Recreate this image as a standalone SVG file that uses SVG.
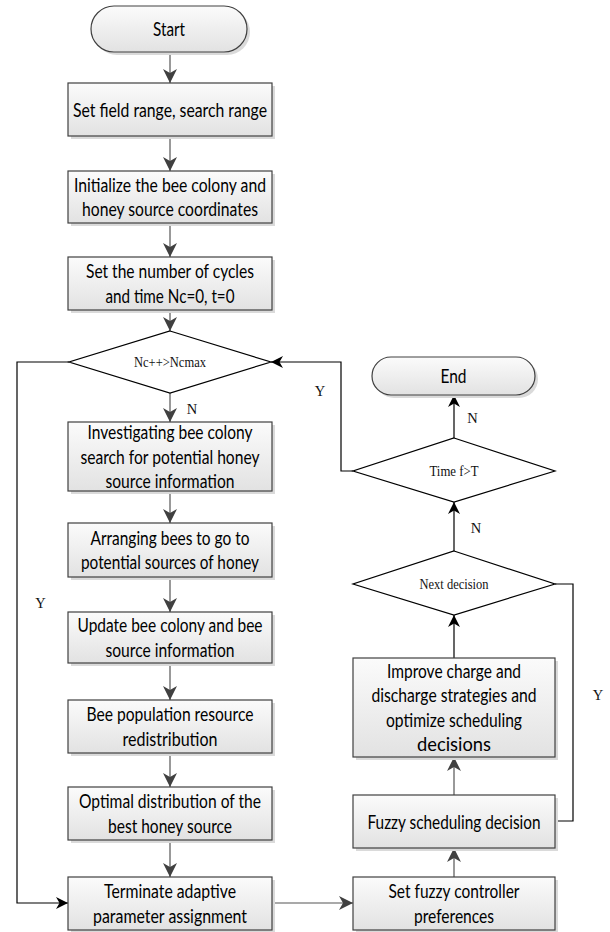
<svg xmlns="http://www.w3.org/2000/svg" width="610" height="932" viewBox="0 0 610 932">
<defs>
<linearGradient id="gf" x1="0" y1="0" x2="0" y2="1">
<stop offset="0" stop-color="#fbfbfb"/>
<stop offset="1" stop-color="#e2e2e2"/>
</linearGradient>
<marker id="ag" viewBox="0 0 14 14" refX="14" refY="7" markerWidth="14" markerHeight="14" markerUnits="userSpaceOnUse" orient="auto">
<path d="M0,0 L14,7 L0,14 L4,7 Z" fill="#404040"/>
</marker>
<marker id="ab" viewBox="0 0 12 12" refX="12" refY="6" markerWidth="12" markerHeight="12" markerUnits="userSpaceOnUse" orient="auto">
<path d="M0,0 L12,6 L0,12 L3.5,6 Z" fill="#000"/>
</marker>
</defs>
<style>
.sh{fill:#dadada}
.bx{fill:url(#gf);stroke:#404040;stroke-width:1.2}
.dm{fill:#fff;stroke:#000;stroke-width:1.2}
.t{font-family:Lato,"Open Sans","Liberation Sans",sans-serif;font-size:19.5px;fill:#000;text-anchor:middle}
.d{font-family:"Liberation Serif","Times New Roman",serif;font-size:14px;fill:#111;text-anchor:middle}
.l{font-family:"Liberation Serif","Times New Roman",serif;font-size:14.5px;fill:#111;text-anchor:middle}
.cg{fill:none;stroke:#555;stroke-width:1.2;marker-end:url(#ag)}
.cb{fill:none;stroke:#000;stroke-width:1.2;marker-end:url(#ab)}
.cn{fill:none;stroke:#000;stroke-width:1.2}
</style>
<g id="connectors">
<path class="cg" d="M170,52 V83"/>
<path class="cg" d="M170,136 V171"/>
<path class="cg" d="M170,223 V257"/>
<path class="cg" d="M170,310 V331"/>
<path class="cg" d="M170,393 V422"/>
<path class="cg" d="M170,491 V523"/>
<path class="cg" d="M170,577 V612"/>
<path class="cg" d="M170,663 V700"/>
<path class="cg" d="M170,753 V787"/>
<path class="cg" d="M170,840 V877"/>
<path class="cb" d="M69,362 H17 V903 H68"/>
<path class="cg" d="M272,903 H353"/>
<path class="cg" d="M454,877 V848"/>
<path class="cg" d="M454,795 V757"/>
<path class="cb" d="M454,658 V615"/>
<path class="cb" d="M454,551 V502"/>
<path class="cb" d="M454,438 V395"/>
<path class="cb" d="M353,471 H341 V362 H271"/>
<path class="cn" d="M555,584 H573 V821 H555"/>
<text class="l" x="192" y="414">N</text>
<text class="l" x="40.5" y="608">Y</text>
<text class="l" x="320" y="396">Y</text>
<text class="l" x="472.5" y="423">N</text>
<text class="l" x="476" y="533">N</text>
<text class="l" x="598" y="700">Y</text>
</g>
<g id="start">
<rect class="sh" x="94" y="9" width="156" height="46" rx="23"/>
<rect class="bx" x="91" y="6" width="156" height="46" rx="23"/>
<text class="t" x="169" y="36" textLength="32" lengthAdjust="spacingAndGlyphs">Start</text>
</g>
<g id="n1">
<rect class="sh" x="71" y="86" width="204" height="53"/>
<rect class="bx" x="68" y="83" width="204" height="53"/>
<text class="t" x="170" y="116.5" textLength="194" lengthAdjust="spacingAndGlyphs">Set field range, search range</text>
</g>
<g id="n2">
<rect class="sh" x="71" y="174" width="204" height="52"/>
<rect class="bx" x="68" y="171" width="204" height="52"/>
<text class="t" x="170" y="191.75" textLength="192" lengthAdjust="spacingAndGlyphs">Initialize the bee colony and</text>
<text class="t" x="170" y="216.25" textLength="176" lengthAdjust="spacingAndGlyphs">honey source coordinates</text>
</g>
<g id="n3">
<rect class="sh" x="71" y="260" width="204" height="53"/>
<rect class="bx" x="68" y="257" width="204" height="53"/>
<text class="t" x="170" y="278.25" textLength="168" lengthAdjust="spacingAndGlyphs">Set the number of cycles</text>
<text class="t" x="170" y="302.75" textLength="129" lengthAdjust="spacingAndGlyphs">and time Nc=0, t=0</text>
</g>
<g id="d1">
<polygon class="dm" points="170,331 271,362 170,393 69,362"/>
<text class="d" x="170" y="366.5" textLength="72" lengthAdjust="spacingAndGlyphs">Nc++&gt;Ncmax</text>
</g>
<g id="n4">
<rect class="sh" x="71" y="425" width="204" height="69"/>
<rect class="bx" x="68" y="422" width="204" height="69"/>
<text class="t" x="170" y="439" textLength="165" lengthAdjust="spacingAndGlyphs">Investigating bee colony</text>
<text class="t" x="170" y="463.5" textLength="179" lengthAdjust="spacingAndGlyphs">search for potential honey</text>
<text class="t" x="170" y="488" textLength="129" lengthAdjust="spacingAndGlyphs">source information</text>
</g>
<g id="n5">
<rect class="sh" x="71" y="526" width="204" height="54"/>
<rect class="bx" x="68" y="523" width="204" height="54"/>
<text class="t" x="170" y="544.75" textLength="159" lengthAdjust="spacingAndGlyphs">Arranging bees to go to</text>
<text class="t" x="170" y="569.25" textLength="178" lengthAdjust="spacingAndGlyphs">potential sources of honey</text>
</g>
<g id="n6">
<rect class="sh" x="71" y="615" width="204" height="51"/>
<rect class="bx" x="68" y="612" width="204" height="51"/>
<text class="t" x="170" y="632.25" textLength="185" lengthAdjust="spacingAndGlyphs">Update bee colony and bee</text>
<text class="t" x="170" y="656.75" textLength="129" lengthAdjust="spacingAndGlyphs">source information</text>
</g>
<g id="n7">
<rect class="sh" x="71" y="703" width="204" height="53"/>
<rect class="bx" x="68" y="700" width="204" height="53"/>
<text class="t" x="170" y="721.25" textLength="167" lengthAdjust="spacingAndGlyphs">Bee population resource</text>
<text class="t" x="170" y="745.75" textLength="95" lengthAdjust="spacingAndGlyphs">redistribution</text>
</g>
<g id="n8">
<rect class="sh" x="71" y="790" width="204" height="53"/>
<rect class="bx" x="68" y="787" width="204" height="53"/>
<text class="t" x="170" y="808.25" textLength="182" lengthAdjust="spacingAndGlyphs">Optimal distribution of the</text>
<text class="t" x="170" y="832.75" textLength="124" lengthAdjust="spacingAndGlyphs">best honey source</text>
</g>
<g id="n9">
<rect class="sh" x="71" y="880" width="204" height="53"/>
<rect class="bx" x="68" y="877" width="204" height="53"/>
<text class="t" x="170" y="898.25" textLength="132" lengthAdjust="spacingAndGlyphs">Terminate adaptive</text>
<text class="t" x="170" y="922.75" textLength="154" lengthAdjust="spacingAndGlyphs">parameter assignment</text>
</g>
<g id="n10">
<rect class="sh" x="356" y="880" width="202" height="53"/>
<rect class="bx" x="353" y="877" width="202" height="53"/>
<text class="t" x="454" y="898.25" textLength="131" lengthAdjust="spacingAndGlyphs">Set fuzzy controller</text>
<text class="t" x="454" y="922.75" textLength="80" lengthAdjust="spacingAndGlyphs">preferences</text>
</g>
<g id="n11">
<rect class="sh" x="356" y="798" width="202" height="53"/>
<rect class="bx" x="353" y="795" width="202" height="53"/>
<text class="t" x="454" y="828.5" textLength="173" lengthAdjust="spacingAndGlyphs">Fuzzy scheduling decision</text>
</g>
<g id="n12">
<rect class="sh" x="356" y="661" width="202" height="99"/>
<rect class="bx" x="353" y="658" width="202" height="99"/>
<text class="t" x="454" y="677.75" textLength="134" lengthAdjust="spacingAndGlyphs">Improve charge and</text>
<text class="t" x="454" y="702.25" textLength="165" lengthAdjust="spacingAndGlyphs">discharge strategies and</text>
<text class="t" x="454" y="726.75" textLength="136" lengthAdjust="spacingAndGlyphs">optimize scheduling</text>
<text class="t" x="454" y="751.25" textLength="74" lengthAdjust="spacingAndGlyphs">decisions</text>
</g>
<g id="d2">
<polygon class="dm" points="454,551 555,584 454,615 353,584"/>
<text class="d" x="454" y="588.5" textLength="69" lengthAdjust="spacingAndGlyphs">Next decision</text>
</g>
<g id="d3">
<polygon class="dm" points="454,438 555,471 454,502 353,471"/>
<text class="d" x="454" y="475.5" textLength="49" lengthAdjust="spacingAndGlyphs">Time f&gt;T</text>
</g>
<g id="end">
<rect class="sh" x="375" y="360" width="163" height="38" rx="19"/>
<rect class="bx" x="372" y="357" width="163" height="38" rx="19"/>
<text class="t" x="453.5" y="383" textLength="26" lengthAdjust="spacingAndGlyphs">End</text>
</g>
</svg>
